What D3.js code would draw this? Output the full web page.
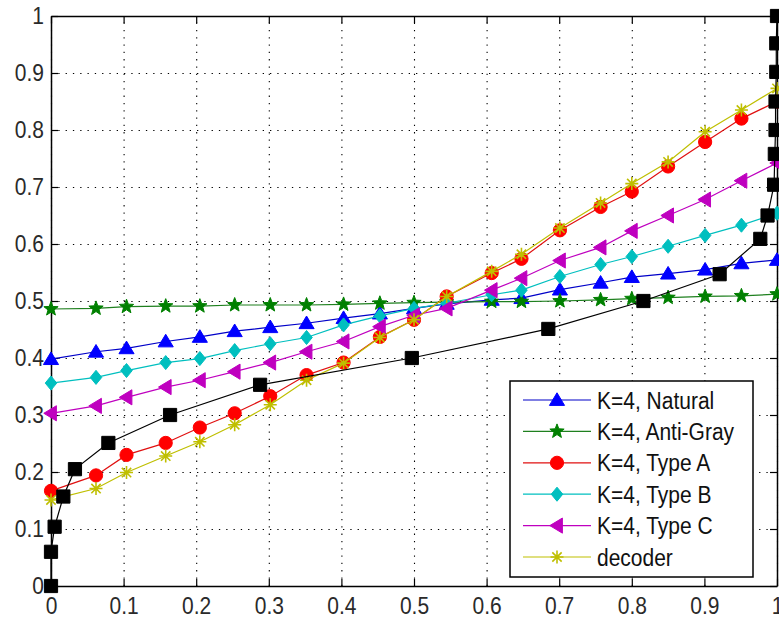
<!DOCTYPE html>
<html>
<head>
<meta charset="utf-8">
<script src="https://cdn.jsdelivr.net/npm/d3@7"></script>
<style>
  html, body { margin: 0; padding: 0; background: #fff; }
  svg { display: block; }
  text { font-family: "Liberation Sans", Arial, Helvetica, sans-serif; }
</style>
</head>
<body>
<svg id="chart" width="779" height="621"></svg>
<script>
// ---- data ----
const xTicks = [0, 0.1, 0.2, 0.3, 0.4, 0.5, 0.6, 0.7, 0.8, 0.9, 1];
const yTicks = [0, 0.1, 0.2, 0.3, 0.4, 0.5, 0.6, 0.7, 0.8, 0.9, 1];

const xs = [0, 0.062, 0.104, 0.158, 0.205, 0.253, 0.302, 0.352, 0.403, 0.453, 0.5,
            0.545, 0.607, 0.648, 0.701, 0.757, 0.8, 0.85, 0.901, 0.951, 1.0];

const natural  = [0.398, 0.411, 0.417, 0.429, 0.437, 0.447, 0.454, 0.461, 0.470, 0.478, 0.487,
                  0.495, 0.502, 0.505, 0.520, 0.532, 0.542, 0.548, 0.555, 0.566, 0.572];
const antiGray = [0.486, 0.487, 0.490, 0.491, 0.491, 0.493, 0.493, 0.493, 0.494, 0.496, 0.497,
                  0.498, 0.499, 0.499, 0.500, 0.502, 0.504, 0.506, 0.508, 0.509, 0.512];
const typeA    = [0.167, 0.194, 0.230, 0.251, 0.278, 0.303, 0.333, 0.370, 0.392, 0.437, 0.467,
                  0.508, 0.549, 0.574, 0.624, 0.665, 0.692, 0.736, 0.779, 0.820, 0.850];
const typeB    = [0.356, 0.366, 0.378, 0.392, 0.399, 0.413, 0.425, 0.436, 0.458, 0.474, 0.487,
                  0.496, 0.511, 0.519, 0.543, 0.564, 0.578, 0.596, 0.615, 0.633, 0.654];
const typeC    = [0.303, 0.316, 0.331, 0.349, 0.361, 0.376, 0.392, 0.411, 0.429, 0.455, 0.475,
                  0.487, 0.519, 0.540, 0.571, 0.594, 0.623, 0.650, 0.678, 0.711, 0.742];
const decoder  = [0.151, 0.171, 0.199, 0.228, 0.253, 0.283, 0.318, 0.361, 0.391, 0.436, 0.467,
                  0.508, 0.552, 0.582, 0.628, 0.672, 0.706, 0.744, 0.797, 0.835, 0.873];

const blackX = [0, 0, 0.005, 0.017, 0.033, 0.079, 0.164, 0.288, 0.497, 0.685, 0.816,
                0.921, 0.977, 0.987, 0.996, 0.997, 0.998, 0.998, 0.999, 0.999, 1.0];
const blackY = [0, 0.06, 0.104, 0.157, 0.205, 0.251, 0.300, 0.353, 0.400, 0.451, 0.500,
                0.547, 0.609, 0.650, 0.704, 0.758, 0.800, 0.850, 0.902, 0.952, 1.0];

const seriesNames = ["K=4, Natural", "K=4, Anti-Gray", "K=4, Type A", "K=4, Type B", "K=4, Type C", "decoder"];

// ---- layout ----
const svg = d3.select("#chart");
const L = 51, R = 777, T = 16, B = 586;
const x = d3.scaleLinear().domain([0, 1]).range([L, R]);
const y = d3.scaleLinear().domain([0, 1]).range([B, T]);
const SY = 1.13; // vertical stretch of the lettering in the reference

// ---- marker shapes ----
const triUp = { draw(c, s) { const r = s; c.moveTo(0, -r); c.lineTo(r * 1.05, r * 0.75); c.lineTo(-r * 1.05, r * 0.75); c.closePath(); } };
const triLeft = { draw(c, s) { const r = s; c.moveTo(-r, 0); c.lineTo(r * 0.75, -r * 1.05); c.lineTo(r * 0.75, r * 1.05); c.closePath(); } };
const diamond = { draw(c, s) { c.moveTo(0, -s * 1.1); c.lineTo(s * 0.9, 0); c.lineTo(0, s * 1.1); c.lineTo(-s * 0.9, 0); c.closePath(); } };
const square = { draw(c, s) { c.rect(-s, -s, 2 * s, 2 * s); } };
const circle = { draw(c, s) { c.moveTo(s, 0); c.arc(0, 0, s, 0, 2 * Math.PI); } };
const pentagram = { draw(c, s) {
  const ro = s, ri = s * 0.42;
  for (let i = 0; i < 10; i++) {
    const a = -Math.PI / 2 + i * Math.PI / 5, r = i % 2 ? ri : ro;
    const px = r * Math.cos(a), py = r * Math.sin(a);
    i ? c.lineTo(px, py) : c.moveTo(px, py);
  }
  c.closePath();
} };
const asterisk = { draw(c, s) {
  c.moveTo(0, -s); c.lineTo(0, s);
  c.moveTo(-s, 0); c.lineTo(s, 0);
  const d = s * 0.72;
  c.moveTo(-d, -d); c.lineTo(d, d);
  c.moveTo(-d, d); c.lineTo(d, -d);
} };

const series = [
  { name: seriesNames[0], values: natural,  color: "#0000ff", line: "#0000c8", shape: triUp, size: 7.2, fill: true },
  { name: seriesNames[1], values: antiGray, color: "#008000", line: "#1f801f", shape: pentagram, size: 7.5, fill: true },
  { name: seriesNames[2], values: typeA,    color: "#ff0000", line: "#e01010", shape: circle, size: 6.6, fill: true },
  { name: seriesNames[3], values: typeB,    color: "#00bfbf", line: "#00bfbf", shape: diamond, size: 6.4, fill: true },
  { name: seriesNames[4], values: typeC,    color: "#bf00bf", line: "#bf00bf", shape: triLeft, size: 7.2, fill: true },
  { name: seriesNames[5], values: decoder,  color: "#bfbf00", line: "#bfbf00", shape: asterisk, size: 6.5, fill: false }
];

// ---- grid ----
const gridStyle = g => g.selectAll("line").attr("stroke", "#000").attr("stroke-width", 1.1).attr("stroke-dasharray", "1.3,6");
svg.append("g").attr("transform", `translate(0,${B})`)
  .call(d3.axisBottom(x).tickValues(xTicks).tickSize(-(B - T)).tickFormat(""))
  .call(g => g.select(".domain").remove()).call(gridStyle);
svg.append("g").attr("transform", `translate(${L},0)`)
  .call(d3.axisLeft(y).tickValues(yTicks).tickSize(-(R - L)).tickFormat(""))
  .call(g => g.select(".domain").remove()).call(gridStyle);

// ---- axes (inward ticks, boxed) ----
const fmt = d => String(+d.toFixed(1));
const styleAxis = g => {
  g.select(".domain").attr("stroke", "#000").attr("stroke-width", 1.5);
  g.selectAll(".tick line").attr("stroke", "#000").attr("stroke-width", 1.2);
  g.selectAll("text").attr("fill", "#2a2a2a").style("font-size", "21px");
};
svg.append("g").attr("transform", `translate(0,${B})`)
  .call(d3.axisBottom(x).tickValues(xTicks).tickFormat(fmt).tickSizeInner(-7).tickSizeOuter(0).tickPadding(10))
  .call(styleAxis)
  .call(g => g.selectAll("text").attr("transform", `scale(1,${SY})`));
svg.append("g").attr("transform", `translate(${L},0)`)
  .call(d3.axisLeft(y).tickValues(yTicks).tickFormat(fmt).tickSizeInner(-7).tickSizeOuter(0).tickPadding(7))
  .call(styleAxis)
  .call(g => g.selectAll("text").attr("transform", `scale(1,${SY})`));
svg.append("g").attr("transform", `translate(0,${T})`)
  .call(d3.axisTop(x).tickValues(xTicks).tickFormat("").tickSizeInner(-7).tickSizeOuter(0))
  .call(styleAxis);
svg.append("g").attr("transform", `translate(${R},0)`)
  .call(d3.axisRight(y).tickValues(yTicks).tickFormat("").tickSizeInner(-7).tickSizeOuter(0))
  .call(styleAxis);

// ---- series ----
const line = d3.line().x(d => x(d[0])).y(d => y(d[1]));
const drawMarkers = (g, pts, s) => {
  g.selectAll("path.mk").data(pts).join("path").attr("class", "mk")
    .attr("transform", d => `translate(${x(d[0])},${y(d[1])})`)
    .attr("d", d3.symbol().type(s.shape).size(s.size))
    .attr("fill", s.fill ? s.color : "none")
    .attr("stroke", s.color)
    .attr("stroke-width", s.fill ? 1 : 1.6);
};
series.forEach(s => {
  const pts = xs.map((xv, i) => [xv, s.values[i]]);
  const g = svg.append("g");
  g.append("path").attr("d", line(pts)).attr("fill", "none").attr("stroke", s.line).attr("stroke-width", 1.2);
  drawMarkers(g, pts, s);
});
const blackPts = blackX.map((xv, i) => [xv, blackY[i]]);
const gb = svg.append("g");
gb.append("path").attr("d", line(blackPts)).attr("fill", "none").attr("stroke", "#000").attr("stroke-width", 1.2);
drawMarkers(gb, blackPts, { shape: square, size: 6.6, color: "#000", fill: true });

// ---- legend ----
const lg = svg.append("g");
lg.append("rect").attr("x", 510).attr("y", 381).attr("width", 243).attr("height", 196)
  .attr("fill", "#fff").attr("stroke", "#000").attr("stroke-width", 1.5);
series.forEach((s, i) => {
  const cy = 400 + i * 31.4;
  lg.append("line").attr("x1", 523).attr("x2", 591).attr("y1", cy).attr("y2", cy)
    .attr("stroke", s.line).attr("stroke-width", 1.2);
  lg.append("path").attr("transform", `translate(557,${cy})`)
    .attr("d", d3.symbol().type(s.shape).size(s.size))
    .attr("fill", s.fill ? s.color : "none").attr("stroke", s.color).attr("stroke-width", s.fill ? 1 : 1.6);
  lg.append("text").attr("transform", `translate(597,${cy}) scale(1,${SY})`).attr("dy", "0.36em")
    .style("font-size", "21px").attr("fill", "#111").text(s.name);
});
</script>
</body>
</html>
